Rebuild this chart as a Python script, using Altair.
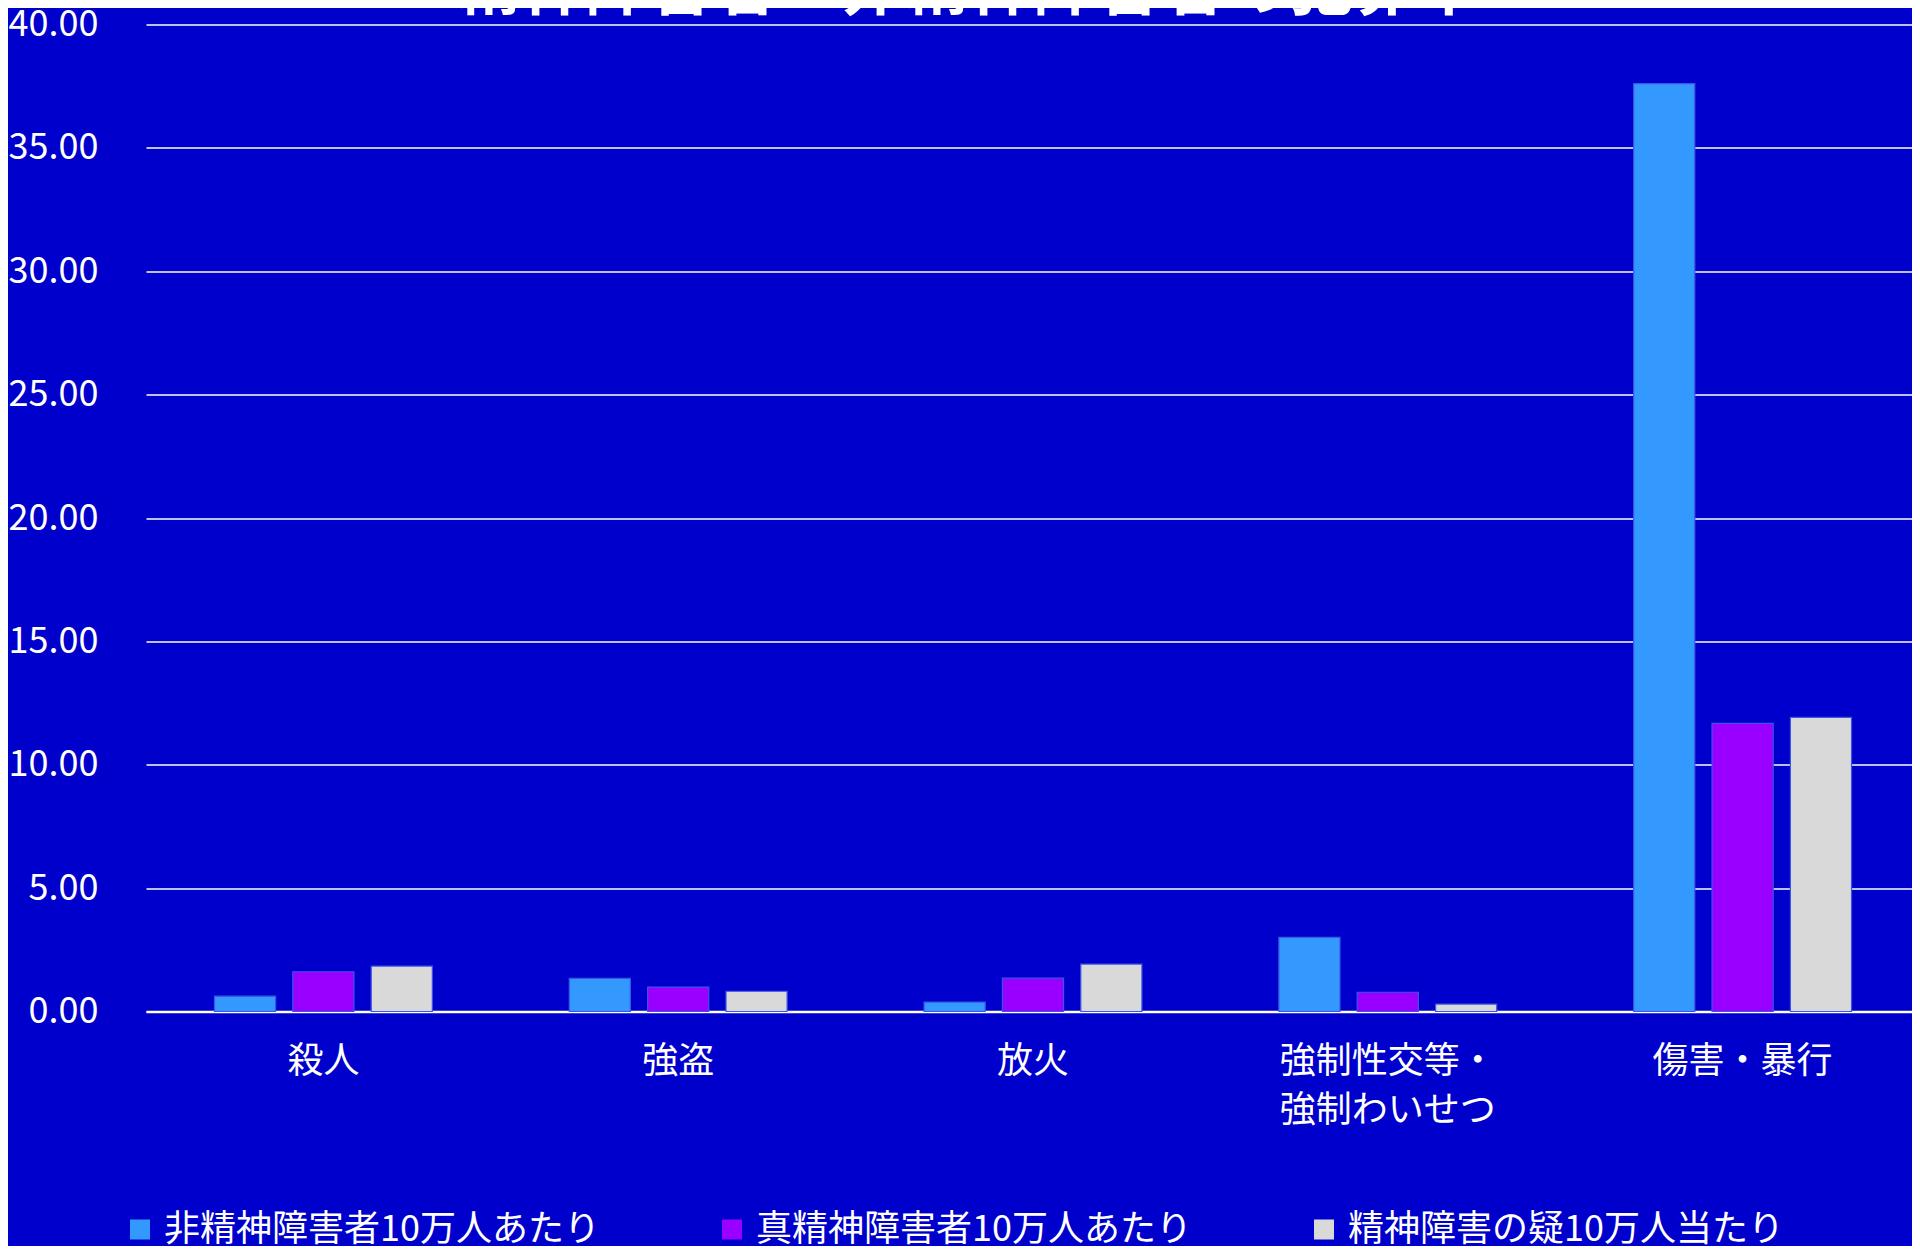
import altair as alt
import pandas as pd

categories = ["殺人", "強盗", "放火", "強制性交等・|強制わいせつ", "傷害・暴行"]
series = ["非精神障害者10万人あたり", "真精神障害者10万人あたり", "精神障害の疑10万人当たり"]
non_disabled = [0.62, 1.34, 0.38, 3.01, 37.60]
disabled = [1.61, 0.99, 1.35, 0.78, 11.68]
suspected = [1.84, 0.82, 1.92, 0.30, 11.92]
colors = ["#3399FF", "#9900FF", "#D9D9D9"]
y_ticks = [0, 5, 10, 15, 20, 25, 30, 35, 40]
title_text = ["精神障害者・非精神障害者の犯罪率"]

rows = []
for vals, s in zip([non_disabled, disabled, suspected], series):
    for c, v in zip(categories, vals):
        rows.append({"category": c, "series": s, "value": v})
df = pd.DataFrame(rows)
title_df = pd.DataFrame({"t": title_text})

BG = "#0000CC"
FONT = "Noto Sans CJK JP"

bars = (
    alt.Chart(df)
    .mark_bar(stroke="#3a55e6", strokeWidth=1.2)
    .encode(
        x=alt.X(
            "category:N", sort=categories,
            scale=alt.Scale(range=[0, 1774], paddingInner=0.386, paddingOuter=0.193),
            axis=alt.Axis(
                title=None, labelAngle=0, labelExpr="split(datum.label, '|')",
                labelFont=FONT, labelFontSize=36, labelColor="white",
                labelPadding=33, labelLineHeight=49, ticks=False, grid=False,
                domain=True, domainColor="white", domainWidth=2.5, labelLimit=0,
            ),
        ),
        xOffset=alt.XOffset("series:N", sort=series,
                            scale=alt.Scale(paddingInner=0.22, paddingOuter=0)),
        y=alt.Y(
            "value:Q",
            scale=alt.Scale(domain=[0, 40], nice=False),
            axis=alt.Axis(
                title=None, values=y_ticks, format=".2f",
                labelFont=FONT, labelFontSize=36, labelColor="white",
                labelPadding=48, ticks=False, domain=False,
                grid=True, gridColor="white", gridWidth=1.5,
            ),
        ),
        color=alt.Color(
            "series:N", sort=series,
            scale=alt.Scale(domain=series, range=colors),
            legend=alt.Legend(
                title=None, orient="none", legendX=-24, legendY=1187,
                direction="horizontal", columns=3, columnPadding=114,
                symbolType="square", symbolSize=400, symbolStrokeWidth=0,
                labelFont=FONT, labelFontSize=36, labelColor="white",
                labelOffset=6, labelLimit=0, padding=0,
            ),
        ),
    )
)

title = (
    alt.Chart(title_df)
    .mark_text(font=FONT, fontSize=64, fontWeight="bold", color="white",
               align="center", baseline="alphabetic")
    .encode(text="t:N", x=alt.value(823), y=alt.value(-16))
)

chart = (
    alt.layer(bars, title)
    .properties(
        width=1766, height=987,
        padding={"left": 138, "top": 16.5, "right": 0, "bottom": 234.5},
        autosize=alt.AutoSizeParams(type="none"),
        background=BG,
    )
    .configure_view(stroke=None)
)

chart.save("out.html", embed_options={"renderer": "svg", "actions": False})
